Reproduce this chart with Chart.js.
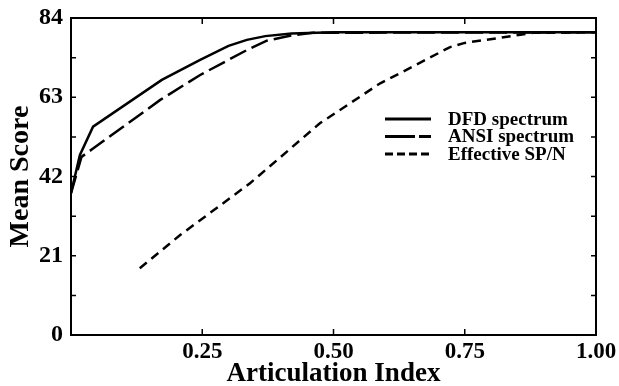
<!DOCTYPE html>
<html>
<head>
<meta charset="utf-8">
<script src="https://cdn.jsdelivr.net/npm/chart.js@4.4.0/dist/chart.umd.min.js"></script>
<style>
  html, body { margin: 0; padding: 0; background: #fff; }
  #grafico { display: block; }
</style>
</head>
<body>
<canvas id="grafico" width="619" height="386"></canvas>
<script>
// Datos
const dfdX = [0, 0.017, 0.042, 0.173, 0.246, 0.30, 0.335, 0.37, 0.42, 0.50, 1.00];
const dfdY = [37.6, 47.7, 55.2, 67.6, 72.9, 76.6, 78.2, 79.2, 79.9, 80.2, 80.2];

const ansiX = [0, 0.02, 0.042, 0.17, 0.246, 0.335, 0.373, 0.417, 0.46, 1.00];
const ansiY = [37.6, 47.2, 49.4, 62.3, 68.9, 75.5, 78.0, 79.3, 80.1, 80.2];

const spnX = [0.131, 0.208, 0.341, 0.474, 0.589, 0.627, 0.722, 0.75, 0.82, 0.88, 1.00];
const spnY = [17.7, 26.5, 40.2, 56.1, 66.7, 69.4, 76.3, 77.4, 78.8, 80.1, 80.2];

const etiquetas = ['DFD spectrum', 'ANSI spectrum', 'Effective SP/N'];
const ticksY = [0, 21, 42, 63, 84];
const ticksX = [0.25, 0.50, 0.75, 1.00];

const fuente = 'Liberation Serif';

function puntos(xs, ys) {
    return xs.map((x, i) => ({ x: x, y: ys[i] }));
}

// Caja, marcas hacia dentro y leyenda dentro del area
const marcoPlugin = {
    id: 'marco',
    afterDatasetsDraw(chart) {
        const ctx = chart.ctx;
        const a = chart.chartArea;
        const sx = chart.scales.x;
        const sy = chart.scales.y;
        ctx.save();
        ctx.strokeStyle = '#000';
        ctx.lineWidth = 2;
        ctx.setLineDash([]);
        ctx.strokeRect(a.left, a.top, a.right - a.left, a.bottom - a.top);

        ctx.lineWidth = 1.5;
        sx.ticks.forEach(t => {
            if (t.value <= 0 || t.value >= 1) return;
            const px = sx.getPixelForValue(t.value);
            ctx.beginPath();
            ctx.moveTo(px, a.bottom); ctx.lineTo(px, a.bottom - 6);
            ctx.moveTo(px, a.top); ctx.lineTo(px, a.top + 6);
            ctx.stroke();
        });
        sy.ticks.forEach(t => {
            if (t.value <= 0 || t.value >= 84) return;
            const py = sy.getPixelForValue(t.value);
            ctx.beginPath();
            ctx.moveTo(a.left, py); ctx.lineTo(a.left + 5, py);
            ctx.moveTo(a.right, py); ctx.lineTo(a.right - 5, py);
            ctx.stroke();
        });

        // leyenda
        const dashLeyenda = [[], [30, 4, 12, 0], [8, 4]];
        ctx.font = 'bold 19px "' + fuente + '"';
        ctx.textBaseline = 'middle';
        ctx.fillStyle = '#000';
        chart.data.datasets.forEach((ds, i) => {
            const y = 119 + i * 17.5;
            ctx.beginPath();
            ctx.lineWidth = 3;
            ctx.setLineDash(dashLeyenda[i]);
            ctx.moveTo(385, y);
            ctx.lineTo(431, y);
            ctx.stroke();
            ctx.setLineDash([]);
            ctx.fillText(ds.label, 448, y + 1);
        });
        ctx.restore();
    }
};

const ctx = document.getElementById('grafico');

new Chart(ctx, {
    type: 'line',
    data: {
        datasets: [{
            label: etiquetas[0],
            data: puntos(dfdX, dfdY),
            borderColor: '#000',
            borderWidth: 2.5,
            pointRadius: 0,
            tension: 0
        }, {
            label: etiquetas[1],
            data: puntos(ansiX, ansiY),
            borderColor: '#000',
            borderWidth: 2.5,
            borderDash: [18, 6],
            pointRadius: 0,
            tension: 0
        }, {
            label: etiquetas[2],
            data: puntos(spnX, spnY),
            borderColor: '#000',
            borderWidth: 2.5,
            borderDash: [9, 6],
            pointRadius: 0,
            tension: 0
        }]
    },
    options: {
        responsive: false,
        animation: false,
        layout: {
            padding: { left: 0, right: 23, top: 18, bottom: 0 }
        },
        plugins: {
            legend: { display: false },
            tooltip: { enabled: false }
        },
        scales: {
            x: {
                type: 'linear',
                min: 0,
                max: 1,
                grid: { display: false, drawTicks: false },
                border: { display: false },
                afterFit(scale) {
                    scale.height = 51;
                    scale.paddingRight = 0;
                },
                afterBuildTicks(scale) {
                    scale.ticks = [0].concat(ticksX).map(v => ({ value: v }));
                },
                ticks: {
                    color: '#000',
                    padding: 3,
                    maxRotation: 0,
                    autoSkip: false,
                    font: { family: fuente, size: 23, weight: 'bold' },
                    callback: v => v === 0 ? '' : v.toFixed(2)
                },
                title: {
                    display: true,
                    text: 'Articulation Index',
                    color: '#000',
                    padding: { top: 0, bottom: -4 },
                    font: { family: fuente, size: 27, weight: 'bold' }
                }
            },
            y: {
                min: 0,
                max: 84,
                grid: { display: false, drawTicks: false },
                border: { display: false },
                afterFit(scale) {
                    scale.width = 71;
                    scale.paddingTop = 0;
                    scale.paddingBottom = 0;
                },
                ticks: {
                    stepSize: 10.5,
                    color: '#000',
                    padding: 8,
                    autoSkip: false,
                    font: { family: fuente, size: 24, weight: 'bold' },
                    callback: v => ticksY.includes(v) ? v : ''
                },
                title: {
                    display: true,
                    text: 'Mean Score',
                    color: '#000',
                    padding: { top: 4, bottom: 0 },
                    font: { family: fuente, size: 28, weight: 'bold' }
                }
            }
        }
    },
    plugins: [marcoPlugin]
});
</script>
</body>
</html>
